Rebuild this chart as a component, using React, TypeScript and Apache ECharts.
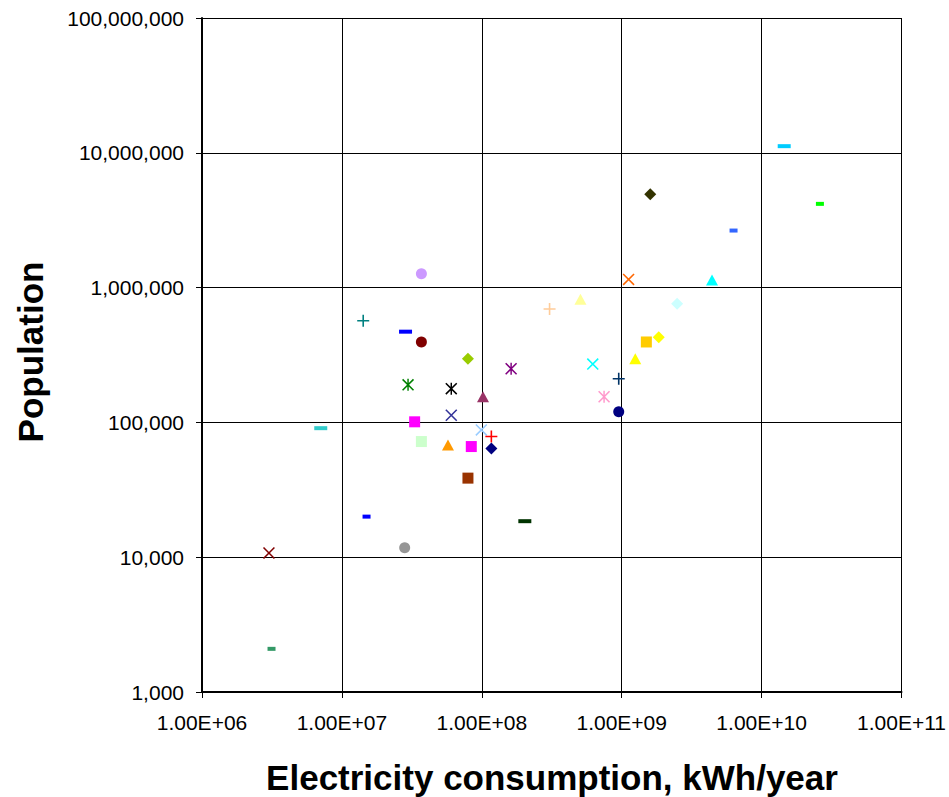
import React, { useEffect, useRef } from "react";
import * as echarts from "echarts";

// Electricity consumption (kWh/year) and population per point
const electricity = [
  3.7e7, 1.42e7, 2.85e7, 3.7e7, 2.97e7, 3.31e7, 3.7e7, 7.06e6, 7.96e7, 1.62e8,
  6.05e7, 1.02e8, 6.05e7, 9.92e7, 1.17e8, 1.17e8, 5.73e7, 8.41e7, 7.96e7, 3.05e8,
  5.07e8, 1.12e9, 6.21e8, 9.52e8, 7.48e8, 9.52e8, 1.25e9, 1.5e9, 1.84e9, 2.49e9,
  4.42e9, 1.6e9, 6.3e9, 1.45e10, 2.61e10, 1.5e7, 2.03e8, 2.81e7, 3.01e6, 3.14e6,
];
const population = [
  1265000, 568000, 471000, 395000, 190000, 101000, 72100, 90600, 297000, 250000,
  178000, 155000, 113000, 87900, 78500, 64000, 68100, 66200, 38600, 693000,
  818000, 1150000, 271000, 211000, 155000, 120000, 297000, 395000, 429000, 759000,
  1137000, 4930000, 2650000, 11200000, 4180000, 20000, 18500, 11750, 10750, 2090,
];

const xTickLabels = ["1.00E+06", "1.00E+07", "1.00E+08", "1.00E+09", "1.00E+10", "1.00E+11"];
const yTickLabels = ["1,000", "10,000", "100,000", "1,000,000", "10,000,000", "100,000,000"];

// marker styles (one per point)
const markerShapes = [
  "circle", "plus", "dashL", "circle", "asterisk", "square", "square", "dashL", "diamond", "asterisk",
  "asterisk", "triangle", "x", "x", "plus", "diamond", "triangle", "square", "square", "plus",
  "triangle", "x", "x", "plus", "asterisk", "circle", "triangle", "square", "diamond", "diamond",
  "triangle", "diamond", "dashS", "dashL", "dashS", "dashS", "dashL", "circle", "x", "dashS",
];
const markerColors = [
  "#CC99FF", "#008080", "#0000FF", "#800000", "#008000", "#FF00FF", "#CCFFCC", "#33CCCC", "#99CC00", "#800080",
  "#000000", "#993366", "#333399", "#99CCFF", "#FF0000", "#000080", "#FF9900", "#FF00FF", "#993300", "#FFCC99",
  "#FFFF99", "#FF6600", "#00FFFF", "#003366", "#FF99CC", "#000080", "#FFFF00", "#FFCC00", "#FFFF00", "#CCFFFF",
  "#00FFFF", "#333300", "#3366FF", "#00CCFF", "#00FF00", "#0000FF", "#003300", "#969696", "#800000", "#339966",
];

const X_PATH =
  "M0.6,-0.6L12.6,11.4L11.4,12.6L-0.6,0.6ZM11.4,-0.6L12.6,0.6L0.6,12.6L-0.6,11.4Z";
const PLUS_PATH = "M5.2,0H6.8V5.2H12V6.8H6.8V12H5.2V6.8H0V5.2H5.2Z";
const BAR_PATH = "M5.2,-0.6H6.8V12.6H5.2Z";

const SHAPES: Record<string, { symbol: string; size: number | number[] }> = {
  circle: { symbol: "circle", size: 11 },
  square: { symbol: "rect", size: 11 },
  triangle: { symbol: "triangle", size: [12, 11] },
  diamond: { symbol: "diamond", size: 12 },
  plus: { symbol: "path://" + PLUS_PATH, size: 12 },
  x: { symbol: "path://" + X_PATH, size: 12 },
  asterisk: { symbol: "path://" + X_PATH + BAR_PATH, size: 12 },
  dashL: { symbol: "rect", size: [13, 4] },
  dashS: { symbol: "rect", size: [8, 4] },
};

const FONT = '"Liberation Sans", Arial, sans-serif';

export default function App() {
  const ref = useRef<HTMLDivElement>(null);

  useEffect(() => {
    if (!ref.current) return;
    const chart = echarts.init(ref.current, null, { renderer: "svg" });

    const data = electricity.map((x, i) => {
      const s = SHAPES[markerShapes[i]];
      return {
        value: [x, population[i]],
        symbol: s.symbol,
        symbolSize: s.size,
        itemStyle: { color: markerColors[i], borderWidth: 0, opacity: 1 },
      };
    });

    chart.setOption({
      animation: false,
      backgroundColor: "#ffffff",
      grid: { left: 202, top: 18, right: 47, bottom: 105, containLabel: false },
      xAxis: {
        type: "log",
        logBase: 10,
        min: 1e6,
        max: 1e11,
        splitNumber: 5,
        axisLine: { show: true, onZero: false, lineStyle: { color: "#000", width: 2 } },
        axisTick: { show: true, inside: false, length: 6, lineStyle: { color: "#000", width: 1 } },
        axisLabel: {
          margin: 20,
          fontSize: 21,
          fontFamily: FONT,
          color: "#000",
          formatter: (v: number) => xTickLabels[Math.round(Math.log10(v)) - 6] ?? "",
        },
        splitLine: { show: true, lineStyle: { color: "#000", width: 1 } },
        minorTick: { show: false },
      },
      yAxis: {
        type: "log",
        logBase: 10,
        min: 1e3,
        max: 1e8,
        splitNumber: 5,
        axisLine: { show: true, onZero: false, lineStyle: { color: "#000", width: 2 } },
        axisTick: { show: true, inside: false, length: 6, lineStyle: { color: "#000", width: 1 } },
        axisLabel: {
          margin: 18,
          fontSize: 21,
          fontFamily: FONT,
          color: "#000",
          formatter: (v: number) => yTickLabels[Math.round(Math.log10(v)) - 3] ?? "",
        },
        splitLine: { show: true, lineStyle: { color: "#000", width: 1 } },
      },
      graphic: [
        {
          type: "text",
          x: 552,
          y: 777,
          style: {
            text: "Electricity consumption, kWh/year",
            font: `bold 35px ${FONT}`,
            fill: "#000",
            textAlign: "center",
            textVerticalAlign: "middle",
            align: "center",
            verticalAlign: "middle",
          },
        },
        {
          type: "text",
          x: 30,
          y: 352,
          rotation: Math.PI / 2,
          style: {
            text: "Population",
            font: `bold 35px ${FONT}`,
            fill: "#000",
            textAlign: "center",
            textVerticalAlign: "middle",
            align: "center",
            verticalAlign: "middle",
          },
        },
      ],
      series: [
        {
          type: "scatter",
          data,
          z: 5,
          itemStyle: { opacity: 1 },
        },
      ],
    });

    return () => chart.dispose();
  }, []);

  return (
    <div
      ref={ref}
      style={{ position: "fixed", left: 0, top: 0, width: 949, height: 797 }}
    />
  );
}
